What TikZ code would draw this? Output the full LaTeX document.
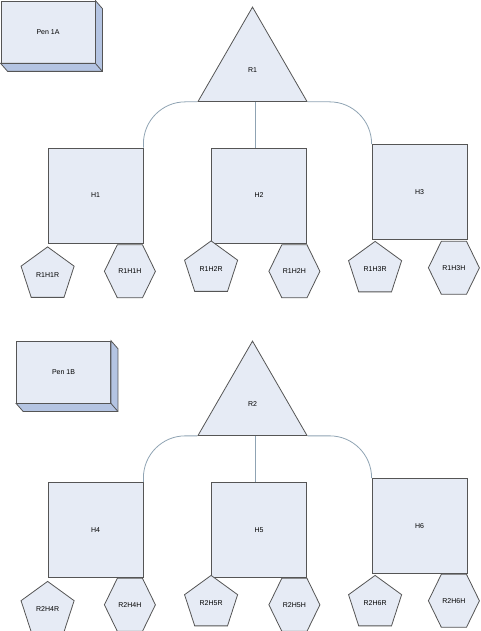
\documentclass[tikz,border=0pt]{standalone}
\usepackage{fontspec}
\setmainfont{Liberation Sans}
\usetikzlibrary{shapes.geometric,shapes.symbols,positioning}
\definecolor{facefill}{HTML}{E6EBF5}
\definecolor{sidefill}{HTML}{B4C4E2}
\definecolor{edgec}{HTML}{555555}
\definecolor{linkc}{HTML}{8FA3B3}

\begin{document}
\begin{tikzpicture}[x=1pt,y=-1pt,font=\fontsize{7}{8}\selectfont,
    every node/.append style={draw=edgec,fill=facefill,line width=0.8pt,inner sep=0pt},
    pen/.style={minimum width=94pt,minimum height=62pt},
    house/.style={minimum size=95pt},
    root/.style={regular polygon,regular polygon sides=3,minimum size=125.8pt},
    rpent/.style={regular polygon,regular polygon sides=5,minimum size=55.8pt},
    rhex/.style={signal,signal to=east and west,signal pointer angle=128,minimum width=51pt,minimum height=53pt},
    link/.style={draw=linkc,line width=0.8pt,rounded corners=42pt}] %
    \useasboundingbox (0,0) rectangle (480,631);
    % pen 1A
    \node[pen] (pen1A) at (48,32) {Pen 1A} ; %
    \filldraw[draw=edgec,fill=sidefill,line width=0.8pt] (pen1A.north east) -- ++(7,8) -- ([shift={(7,8)}]pen1A.south east) -- ([shift={(7,8)}]pen1A.south west) -- (pen1A.south west) -- (pen1A.south east) -- cycle;
    \draw[edgec,line width=0.8pt] (pen1A.south east) -- ++(7,8);
    \node[root] (R1) at (252.5,70) {R1} ; %
    \node[house] (H1) at (95.5,195.5) {H1} ; %
    \node[house] (H2) at (259,195.5) {H2} ; %
    \node[house] (H3) at (419.5,192) {H3} ; %
    \node[rpent, below=3pt of H1.south west] (R1H1R) {R1H1R};
    \node[rhex, below=1pt of H1.south east, xshift=-13.5pt] (R1H1H) {R1H1H};
    \node[rpent, below=-3pt of H2.south west] (R1H2R) {R1H2R};
    \node[rhex, below=1pt of H2.south east, xshift=-12.5pt] (R1H2H) {R1H2H};
    \node[rpent, below=1pt of H3.south west, xshift=3.5pt] (R1H3R) {R1H3R};
    \node[rhex, below=1pt of H3.south east, xshift=-13.5pt] (R1H3H) {R1H3H};
    \draw[link] (R1.corner 2) -| (H1.north east) ; %
    \draw[link] ([xshift=2.5pt]R1.south) -- ([xshift=2.5pt]R1.south |- H2.north) ;
    \draw[link] (R1.corner 3) -| (H3.north west) ;
    % pen 1B
    \node[pen] (pen1B) at (63.5,372) {Pen 1B} ; %
    \filldraw[draw=edgec,fill=sidefill,line width=0.8pt] (pen1B.north east) -- ++(7,8) -- ([shift={(7,8)}]pen1B.south east) -- ([shift={(7,8)}]pen1B.south west) -- (pen1B.south west) -- (pen1B.south east) -- cycle;
    \draw[edgec,line width=0.8pt] (pen1B.south east) -- ++(7,8);
    \node[root] (R2) at (252.5,404) {R2} ; %
    \node[house] (H4) at (95.5,530) {H4} ; %
    \node[house] (H5) at (259,530) {H5} ; %
    \node[house] (H6) at (419.5,526) {H6} ; %
    \node[rpent, below=3pt of H4.south west] (R2H4R) {R2H4R};
    \node[rhex, below=0pt of H4.south east, xshift=-13.5pt] (R2H4H) {R2H4H};
    \node[rpent, below=-3pt of H5.south west] (R2H5R) {R2H5R};
    \node[rhex, below=0pt of H5.south east, xshift=-12.5pt] (R2H5H) {R2H5H};
    \node[rpent, below=1pt of H6.south west, xshift=3.5pt] (R2H6R) {R2H6R};
    \node[rhex, below=0pt of H6.south east, xshift=-13.5pt] (R2H6H) {R2H6H};
    \draw[link] (R2.corner 2) -| (H4.north east) ; %
    \draw[link] ([xshift=2.5pt]R2.south) -- ([xshift=2.5pt]R2.south |- H5.north) ;
    \draw[link] (R2.corner 3) -| (H6.north west) ;
  \end{tikzpicture}
\end{document}
